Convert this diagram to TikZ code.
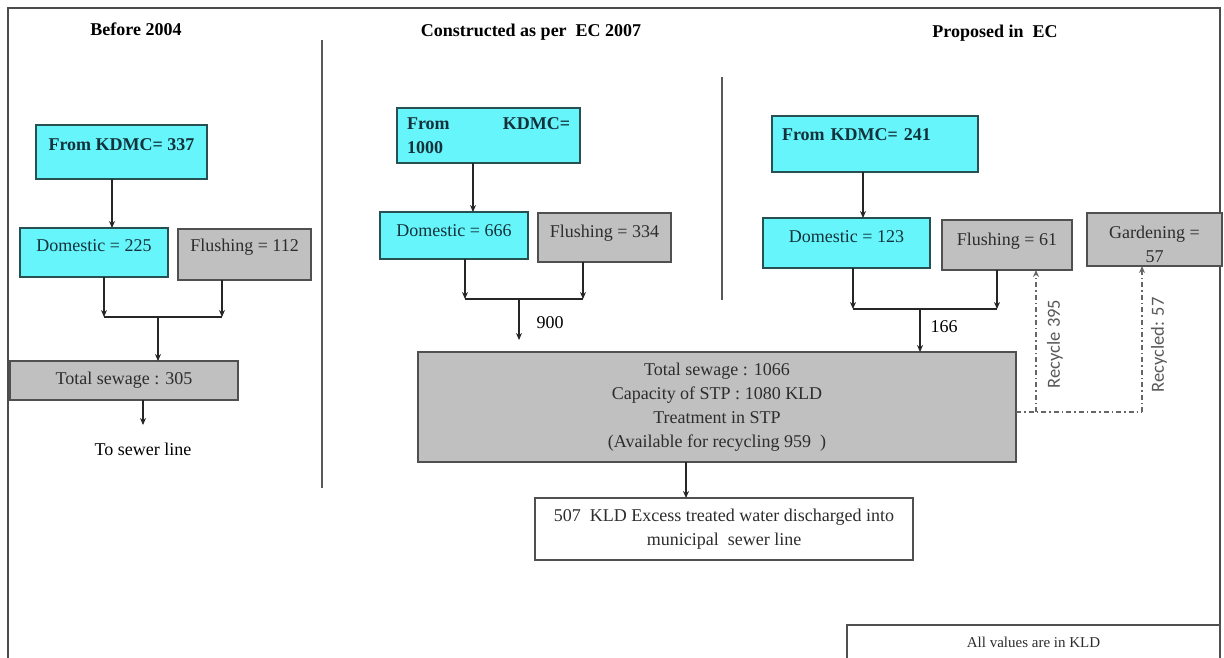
\documentclass[tikz,border=0pt]{standalone}
\usepackage{fontspec}
\setmainfont{Liberation Serif}
\newfontfamily\recfont{Carlito}
\usetikzlibrary{arrows.meta}
\definecolor{boxcyan}{RGB}{102,245,250}
\definecolor{boxgray}{RGB}{192,192,192}
\definecolor{cyanedge}{RGB}{40,80,80}
\definecolor{grayedge}{RGB}{80,80,80}
\definecolor{cyantext}{RGB}{20,50,60}
\definecolor{graytext}{RGB}{45,45,45}
\begin{document}
\begin{tikzpicture}[x=1pt,y=-1pt,
  every node/.style={font=\fontsize{18}{24}\selectfont, inner sep=0pt, outer sep=0pt},
  bold/.style={font=\fontsize{18}{24}\selectfont\bfseries},
  cbox/.style={draw=cyanedge, fill=boxcyan, line width=1.3pt, text=cyantext, anchor=north west},
  gbox/.style={draw=grayedge, fill=boxgray, line width=1.3pt, text=graytext, anchor=north west},
  wbox/.style={draw=grayedge, fill=white, line width=1.3pt, text=graytext, anchor=north west},
  sz/.style 2 args={minimum width=#1pt, minimum height=#2pt},
  lift/.style={text depth=#1pt},
  arr/.style={draw=black!85, line width=1.2pt, -{Stealth[length=7pt,width=6pt]}},
  lin/.style={draw=black!85, line width=1.2pt},
  recl/.style={draw=black!60, line width=1.2pt, dash pattern=on 5pt off 3pt on 1.5pt off 3pt},
  rec/.style={recl, -{Stealth[length=7pt,width=6pt]}},
  reclab/.style={font=\recfont\fontsize{18.5}{22}\selectfont, text=black!65},
  sepline/.style={draw=black!65, line width=1.5pt},
  framel/.style={draw=black!70, line width=2pt}]
\useasboundingbox (0,0) rectangle (1224,657);
\clip (0,0) rectangle (1224,657);
\fill[white] (0,0) rectangle (1224,657);
% frame and separators
\draw[framel] (8,660) -- (8,8) -- (1220,8) -- (1220,625);
\draw[sepline] (322,40) -- (322,488);
\draw[sepline] (722,77) -- (722,300);
% titles
\node[bold] (tt1) at (136,29) {Before 2004};
\node[bold] (tt2) at (531,32) {Constructed as per\ \ EC 2007};
\node[bold] (tt3) at (995,33) {Proposed in\ \ EC};
% left column
\node[cbox, bold, sz={171}{54}, lift=14] (k1) at (36,125) {From KDMC= 337};
\node[cbox, sz={148}{49}, lift=14] (d1) at (20,228) {Domestic = 225};
\node[gbox, sz={133}{51}, lift=18] (f1) at (178,229) {Flushing = 112};
\node[gbox, sz={228}{39}] (t1) at (10,361) {Total sewage : 305};
\node (sew) at (143,449) {To sewer line};
\coordinate (h1a) at (104,317);
\coordinate (h1b) at (222,317);
\coordinate (j1) at (158,317);
\coordinate (s1) at (143,425);
\draw[arr] (k1.south -| 112,0) -- (d1.north -| 112,0);
\draw[arr] (d1.south -| h1a) -- (h1a);
\draw[arr] (f1.south -| h1b) -- (h1b);
\draw[lin] (h1a) -- (h1b);
\draw[arr] (j1) -- (j1 |- t1.north);
\draw[arr] (t1.south -| s1) -- (s1);
% middle column
\node[cbox, bold, sz={183}{55}, text width=163pt, align=left] (k2) at (397,108) {From\hskip 0pt plus 1fill KDMC=\\1000};
\node[cbox, sz={148}{47}, lift=10] (d2) at (380,212) {Domestic = 666};
\node[gbox, sz={133}{49}, lift=12] (f2) at (538,213) {Flushing = 334};
\coordinate (h2a) at (465,299);
\coordinate (h2b) at (583,299);
\coordinate (j2) at (519,299);
\coordinate (e2) at (519,340);
\draw[arr] (k2.south -| 473,0) -- (d2.north -| 473,0);
\draw[arr] (d2.south -| h2a) -- (h2a);
\draw[arr] (f2.south -| h2b) -- (h2b);
\draw[lin] (h2a) -- (h2b);
\draw[arr] (j2) -- (e2);
\node (l900) at (550,323) {900};
% STP
\node[gbox, sz={598}{110}, align=center] (stp) at (418,352) {Total sewage : 1066\\Capacity of STP : 1080 KLD\\Treatment in STP\\(Available for recycling 959\ \ )};
\node[wbox, sz={378}{62}, align=center] (ex) at (535,498) {507\ \ KLD Excess treated water discharged into\\municipal\ \ sewer line};
\draw[arr] (stp.south -| 686,0) -- (ex.north -| 686,0);
% right column
\node[cbox, bold, sz={206}{56}, lift=18, text width=186pt, align=left] (k3) at (772,116) {From KDMC= 241};
\node[cbox, sz={167}{50}, lift=12] (d3) at (763,218) {Domestic = 123};
\node[gbox, sz={130}{50}, lift=12] (f3) at (942,220) {Flushing = 61};
\node[gbox, sz={135}{53}, align=center] (g3) at (1087,213) {\rule{0pt}{21.5pt}Gardening =\\57};
\coordinate (h3a) at (853,309);
\coordinate (h3b) at (997,309);
\coordinate (j3) at (920,309);
\draw[arr] (k3.south -| 863,0) -- (d3.north -| 863,0);
\draw[arr] (d3.south -| h3a) -- (h3a);
\draw[arr] (f3.south -| h3b) -- (h3b);
\draw[lin] (h3a) -- (h3b);
\draw[arr] (j3) -- (j3 |- stp.north);
\node (l166) at (944,327) {166};
% recycle
\coordinate (r1) at (1036,412);
\coordinate (r2) at (1142,412);
\draw[recl] (stp.east |- r1) -- (r2);
\draw[rec] (r1) -- (r1 |- f3.south);
\draw[rec] (r2) -- (r2 |- g3.south);
\node[reclab, rotate=90] (rl1) at (1055,344) {Recycle 395};
\node[reclab, rotate=90] (rl2) at (1159,345) {Recycled: 57};
% note
\node[wbox, sz={373}{45}, font=\fontsize{15}{18}\selectfont, lift=11] (allv) at (847,625) {All values are in KLD};
\end{tikzpicture}
\end{document}
